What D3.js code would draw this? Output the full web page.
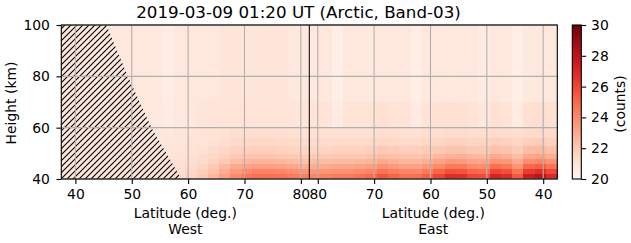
<!DOCTYPE html>
<html>
<head>
<meta charset="utf-8">
<script src="https://cdn.jsdelivr.net/npm/d3@7"></script>
<style>
  body { margin: 0; background: #fff; }
  svg text { font-family: "DejaVu Sans", sans-serif; fill: #000; }
</style>
</head>
<body>
<div id="chart"></div>
<script>
const title = "2019-03-09 01:20 UT (Arctic, Band-03)";

// latitude bin centres (2 deg wide); west runs 37.5 -> 81.5, east runs 81.5 -> 37.5
const westLats = [38.5,40.5,42.5,44.5,46.5,48.5,50.5,52.5,54.5,56.5,58.5,60.5,62.5,64.5,66.5,68.5,70.5,72.5,74.5,76.5,78.5,80.5];
const eastLats = [80.5,78.5,76.5,74.5,72.5,70.5,68.5,66.5,64.5,62.5,60.5,58.5,56.5,54.5,52.5,50.5,48.5,46.5,44.5,42.5,40.5,38.5];

// height bin edges (km)
const heightEdges = [40,42,44,46,48,50,53,56,60,70,100];

// counts, one row per height bin (bottom first)
const westCounts = [
  [20.8,20.8,20.8,20.8,20.8,20.9,20.9,21.0,21.0,21.1,21.3,21.6,22.0,22.6,23.3,24.0,24.6,24.8,24.8,24.7,24.5,24.3],
  [20.8,20.8,20.8,20.8,20.8,20.9,20.9,21.0,21.0,21.1,21.2,21.5,21.8,22.3,22.9,23.5,24.0,24.2,24.2,24.1,23.9,23.7],
  [20.8,20.8,20.8,20.8,20.8,20.9,20.9,20.9,21.0,21.0,21.1,21.3,21.6,22.0,22.5,23.0,23.3,23.4,23.4,23.3,23.1,22.9],
  [20.8,20.8,20.8,20.8,20.8,20.8,20.9,20.9,20.9,21.0,21.1,21.2,21.4,21.7,22.0,22.4,22.6,22.7,22.7,22.6,22.4,22.3],
  [20.8,20.8,20.8,20.8,20.8,20.8,20.8,20.9,20.9,20.9,21.0,21.1,21.3,21.5,21.7,22.0,22.2,22.2,22.2,22.1,22.0,21.9],
  [20.8,20.8,20.8,20.8,20.8,20.8,20.8,20.8,20.9,20.9,21.0,21.0,21.1,21.3,21.5,21.7,21.8,21.8,21.8,21.7,21.6,21.6],
  [20.8,20.8,20.8,20.8,20.8,20.8,20.8,20.8,20.8,20.9,20.9,21.0,21.0,21.1,21.2,21.4,21.5,21.5,21.5,21.4,21.4,21.3],
  [20.8,20.8,20.8,20.8,20.8,20.8,20.8,20.8,20.8,20.8,20.9,20.9,21.0,21.0,21.1,21.2,21.2,21.2,21.2,21.2,21.1,21.1],
  [20.8,20.8,20.7,20.7,20.8,20.8,20.8,20.8,20.7,20.6,20.8,20.8,20.9,20.9,21.0,21.0,21.0,21.0,21.0,21.0,20.9,20.9],
  [20.8,20.8,20.7,20.6,20.7,20.8,20.8,20.8,20.7,20.5,20.8,20.8,20.8,20.8,20.9,20.9,20.9,20.9,20.9,20.9,20.8,20.8]
];
const eastCounts = [
  [24.2,24.3,24.5,24.5,24.7,25.0,25.6,25.2,24.8,24.8,25.3,26.0,26.8,26.7,26.0,25.8,27.2,26.8,25.5,27.5,28.0,27.0],
  [23.6,23.7,23.8,23.8,24.0,24.2,24.7,24.4,24.1,24.1,24.5,25.1,25.7,25.6,25.1,24.9,26.0,25.7,24.7,26.3,26.7,25.9],
  [22.9,23.0,23.1,23.1,23.2,23.4,23.8,23.5,23.3,23.3,23.6,24.0,24.5,24.5,24.0,23.9,24.8,24.5,23.7,25.0,25.3,24.6],
  [22.4,22.4,22.5,22.5,22.6,22.7,23.0,22.8,22.6,22.6,22.9,23.2,23.6,23.5,23.2,23.1,23.7,23.6,23.0,23.9,24.1,23.7],
  [22.0,22.0,22.1,22.1,22.1,22.2,22.4,22.3,22.2,22.2,22.3,22.6,22.8,22.8,22.6,22.5,23.0,22.8,22.4,23.1,23.2,22.9],
  [21.6,21.6,21.7,21.7,21.7,21.8,22.0,21.9,21.8,21.8,21.9,22.0,22.2,22.2,22.0,22.0,22.3,22.2,21.9,22.4,22.5,22.3],
  [21.3,21.3,21.4,21.4,21.4,21.4,21.5,21.5,21.4,21.4,21.5,21.6,21.7,21.7,21.6,21.6,21.8,21.7,21.5,21.8,21.9,21.7],
  [21.1,21.1,21.1,21.1,21.1,21.1,21.2,21.2,21.1,21.1,21.2,21.2,21.3,21.3,21.2,21.2,21.3,21.3,21.2,21.3,21.4,21.3],
  [21.0,21.0,20.6,21.0,21.0,21.0,21.1,21.0,21.0,20.6,21.0,21.1,21.1,21.1,21.0,20.8,21.1,21.0,20.6,21.1,21.2,21.1],
  [20.8,20.8,20.4,20.8,20.8,20.7,20.8,20.8,20.8,20.4,20.8,20.8,20.7,20.8,20.8,20.6,20.8,20.7,20.4,20.7,20.8,20.8]
];

// no-data boundary on the west side (hatched to the left of it)
const hatchHeights = [100,80,60,40];
const hatchLats = [45.5,49.3,53.5,58.8];

const latTicks = [40,50,60,70,80];
const heightTicks = [40,60,80,100];
const colorTicks = [20,22,24,26,28,30];

const width = 631, height = 243;
const plotL = 61.3, plotM = 309.3, plotR = 557.3, plotT = 25, plotB = 179;
const fs = "13.9px";

const svg = d3.select("#chart").append("svg")
    .attr("width",width).attr("height",height);

const xWest = d3.scaleLinear().domain([37.5,81.5]).range([plotL,plotM]);
const xEast = d3.scaleLinear().domain([81.5,37.5]).range([plotM,plotR]);
const yScale = d3.scaleLinear().domain([40,100]).range([plotB,plotT]);
const color = d3.scaleSequential(d3.interpolateReds).domain([20,30]);

// heatmap cells
const cells = [];
heightEdges.slice(0,-1).forEach((h0,r) =>
{
    const h1 = heightEdges[r+1];
    westLats.forEach((lat,c) => cells.push({x0:xWest(lat-1),x1:xWest(lat+1),h0,h1,v:westCounts[r][c]}));
    eastLats.forEach((lat,c) => cells.push({x0:xEast(lat+1),x1:xEast(lat-1),h0,h1,v:eastCounts[r][c]}));
});

svg.append("g").selectAll("rect")
    .data(cells)
    .enter()
    .append("rect")
    .attr("x",d=>d.x0)
    .attr("y",d=>yScale(d.h1))
    .attr("width",d=>d.x1-d.x0+0.4)
    .attr("height",d=>yScale(d.h0)-yScale(d.h1)+0.4)
    .attr("fill",d=>color(d.v))
    .attr("shape-rendering","crispEdges");

// hatch pattern ('//' -> 12 lines per 72 px tile)
const hs = 6;
const defs = svg.append("defs");
const pat = defs.append("pattern")
    .attr("id","hatch")
    .attr("patternUnits","userSpaceOnUse")
    .attr("x",0).attr("y",0)
    .attr("width",hs).attr("height",hs);
pat.append("path")
    .attr("d",`M0,${hs} L${hs},0 M-1,1 L1,-1 M${hs-1},${hs+1} L${hs+1},${hs-1}`)
    .attr("stroke","#000").attr("stroke-width",1.1);

const hatchPts = [[37.5,100]].concat(hatchLats.map((l,i)=>[l,hatchHeights[i]])).concat([[37.5,40]]);
svg.append("path")
    .attr("d",d3.line().x(d=>xWest(d[0])).y(d=>yScale(d[1]))(hatchPts)+"Z")
    .attr("fill","url(#hatch)");

// grid
const grid = svg.append("g").attr("stroke","#b0b0b0").attr("stroke-width",1.1);
latTicks.forEach(t =>
{
    grid.append("line").attr("x1",xWest(t)).attr("x2",xWest(t)).attr("y1",plotT).attr("y2",plotB);
    grid.append("line").attr("x1",xEast(t)).attr("x2",xEast(t)).attr("y1",plotT).attr("y2",plotB);
});
heightTicks.forEach(t =>
{
    grid.append("line").attr("x1",plotL).attr("x2",plotR).attr("y1",yScale(t)).attr("y2",yScale(t));
});

// divider between west and east
svg.append("line")
    .attr("x1",plotM).attr("x2",plotM).attr("y1",plotT).attr("y2",plotB)
    .attr("stroke","#000").attr("stroke-width",1);

// frame
svg.append("rect")
    .attr("x",plotL).attr("y",plotT).attr("width",plotR-plotL).attr("height",plotB-plotT)
    .attr("fill","none").attr("stroke","#000").attr("stroke-width",1.1);

// axes
const styleAxis = g =>
{
    g.select(".domain").remove();
    g.selectAll("line").attr("stroke-width",1.1);
    g.selectAll("text").attr("font-size",fs).attr("font-family","DejaVu Sans");
};
svg.append("g").attr("transform",`translate(0,${plotB})`)
    .call(d3.axisBottom(xWest).tickValues(latTicks).tickSize(4.9).tickPadding(5.2))
    .call(styleAxis);
svg.append("g").attr("transform",`translate(0,${plotB})`)
    .call(d3.axisBottom(xEast).tickValues(latTicks).tickSize(4.9).tickPadding(5.2))
    .call(styleAxis);
svg.append("g").attr("transform",`translate(${plotL},0)`)
    .call(d3.axisLeft(yScale).tickValues(heightTicks).tickSize(4.9).tickPadding(6.5))
    .call(styleAxis);

// labels
svg.append("text")
    .attr("x",298.5).attr("y",18)
    .attr("text-anchor","middle").attr("font-size","16.7px")
    .text(title);
[["West",(plotL+plotM)/2],["East",(plotM+plotR)/2]].forEach(([name,cx]) =>
{
    svg.append("text").attr("x",cx).attr("y",218)
        .attr("text-anchor","middle").attr("font-size",fs).text("Latitude (deg.)");
    svg.append("text").attr("x",cx).attr("y",234)
        .attr("text-anchor","middle").attr("font-size",fs).text(name);
});
svg.append("text")
    .attr("transform",`translate(16,${(plotT+plotB)/2+1}) rotate(-90)`)
    .attr("text-anchor","middle").attr("font-size",fs)
    .text("Height (km)");

// colorbar
const cbX = 572.3, cbW = 9;
const cbScale = d3.scaleLinear().domain([20,30]).range([plotB,plotT]);
const grad = defs.append("linearGradient")
    .attr("id","cbgrad").attr("x1","0").attr("y1","1").attr("x2","0").attr("y2","0");
d3.range(0,1.0001,0.05).forEach(t =>
{
    grad.append("stop").attr("offset",t).attr("stop-color",d3.interpolateReds(t));
});
svg.append("rect")
    .attr("x",cbX).attr("y",plotT).attr("width",cbW).attr("height",plotB-plotT)
    .attr("fill","url(#cbgrad)").attr("stroke","#000").attr("stroke-width",1.1);
svg.append("g").attr("transform",`translate(${cbX+cbW},0)`)
    .call(d3.axisRight(cbScale).tickValues(colorTicks).tickSize(4.9).tickPadding(4.9))
    .call(styleAxis);
svg.append("text")
    .attr("transform",`translate(625,${(plotT+plotB)/2+2}) rotate(-90)`)
    .attr("text-anchor","middle").attr("font-size",fs)
    .text("(counts)");
</script>
</body>
</html>
